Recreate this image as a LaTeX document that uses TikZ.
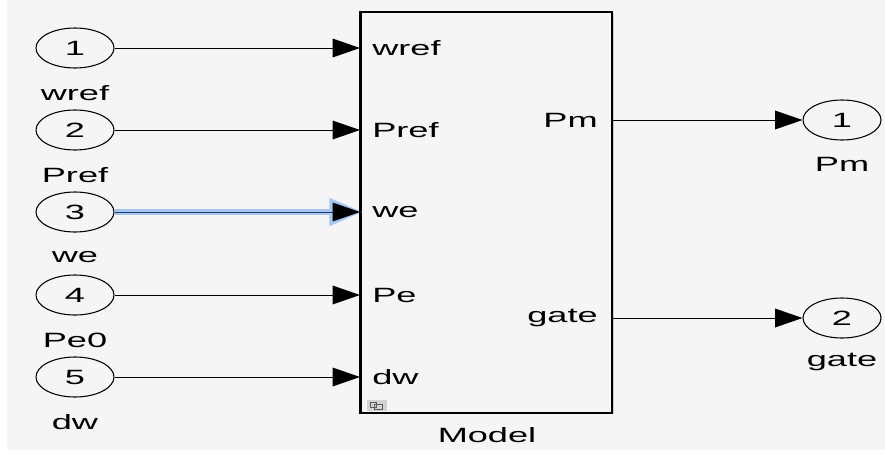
\documentclass[tikz,border=0pt]{standalone}
\usepackage{graphicx}
\usepackage{fontspec}
\setmainfont{Liberation Sans}
\usetikzlibrary{arrows.meta, shapes.geometric, shadows, positioning}
\definecolor{bgGrey}{RGB}{245,245,245}
\definecolor{hiBlue}{RGB}{165,198,240}
\definecolor{sigBlue}{RGB}{40,60,110}
% text is stretched sideways as in the reference
\newcommand{\wtxt}[1]{\scalebox{1.75}[1]{#1}}
\tikzset{
    port/.style={draw, ellipse, line width=0.8pt, fill=bgGrey, minimum width=58.5pt, minimum height=30pt, inner sep=0pt},
    lbl/.style={font=\fontsize{15.5}{18}\selectfont, inner sep=0pt},
    sig/.style={line width=0.75pt, -{Triangle[length=20.5pt, width=14pt, color=black]}},
    sigHi/.style={line width=4.5pt, hiBlue, shorten >=-2pt, -{Triangle[length=25pt, width=20pt]}}
}
\begin{document}
\begin{tikzpicture}[x=0.75pt, y=-0.75pt]
    \useasboundingbox (0,0) rectangle (885,454);
    \fill[bgGrey] (7,0) rectangle (885,450);
    % subsystem block
    \node[draw, line width=1.8pt, fill=bgGrey, minimum width=188pt, minimum height=300.75pt,
          drop shadow={shadow xshift=1.5pt, shadow yshift=-1pt, opacity=0.35}] (model) at (486.5,212.5) {};
    \node[lbl] (modelname) at (487,435) {\wtxt{Model}};
    \fill[gray!35] (367,400) rectangle (387,411);
    \draw[gray!70!black, line width=0.4pt] (370,402) rectangle (376,407) (374,404) rectangle (382,409);
    % inputs
    \foreach \i/\y/\nm/\pn in {1/48/wref/wref, 2/130/Pref/Pref, 3/212/we/we, 4/295/Pe0/Pe, 5/377/dw/dw}{
        \node[port] (in\i) at (75,\y) {};
        \node[lbl] at (in\i) {\wtxt{\i}};
        \node[lbl] (inname\i) at (75,\y+45) {\wtxt{\nm}};
        \coordinate (p\i) at (in\i -| model.west);
        \node[lbl, anchor=west] (pname\i) at (372,\y) {\wtxt{\pn}};
    }
    \foreach \i in {1,2,4,5}{
        \draw[sig] (in\i) -- (p\i);
    }
    \draw[sigHi] (in3.east) -- (p3);
    \draw[sig, sigBlue] (in3.east) -- (p3);
    \draw[line width=1.8pt] (model.north west) -- (model.south west);
    % outputs
    \foreach \i/\y/\nm in {1/120/Pm, 2/318/gate}{
        \node[port] (out\i) at (842,\y) {};
        \node[lbl] at (out\i) {\wtxt{\i}};
        \node[lbl] (outname\i) at (842,\y+44) {\wtxt{\nm}};
        \coordinate (q\i) at (out\i -| model.east);
        \node[lbl, anchor=east] (qname\i) at (598,\y) {\wtxt{\nm}};
        \draw[sig] (q\i) -- (out\i);
    }
\end{tikzpicture}
\end{document}
